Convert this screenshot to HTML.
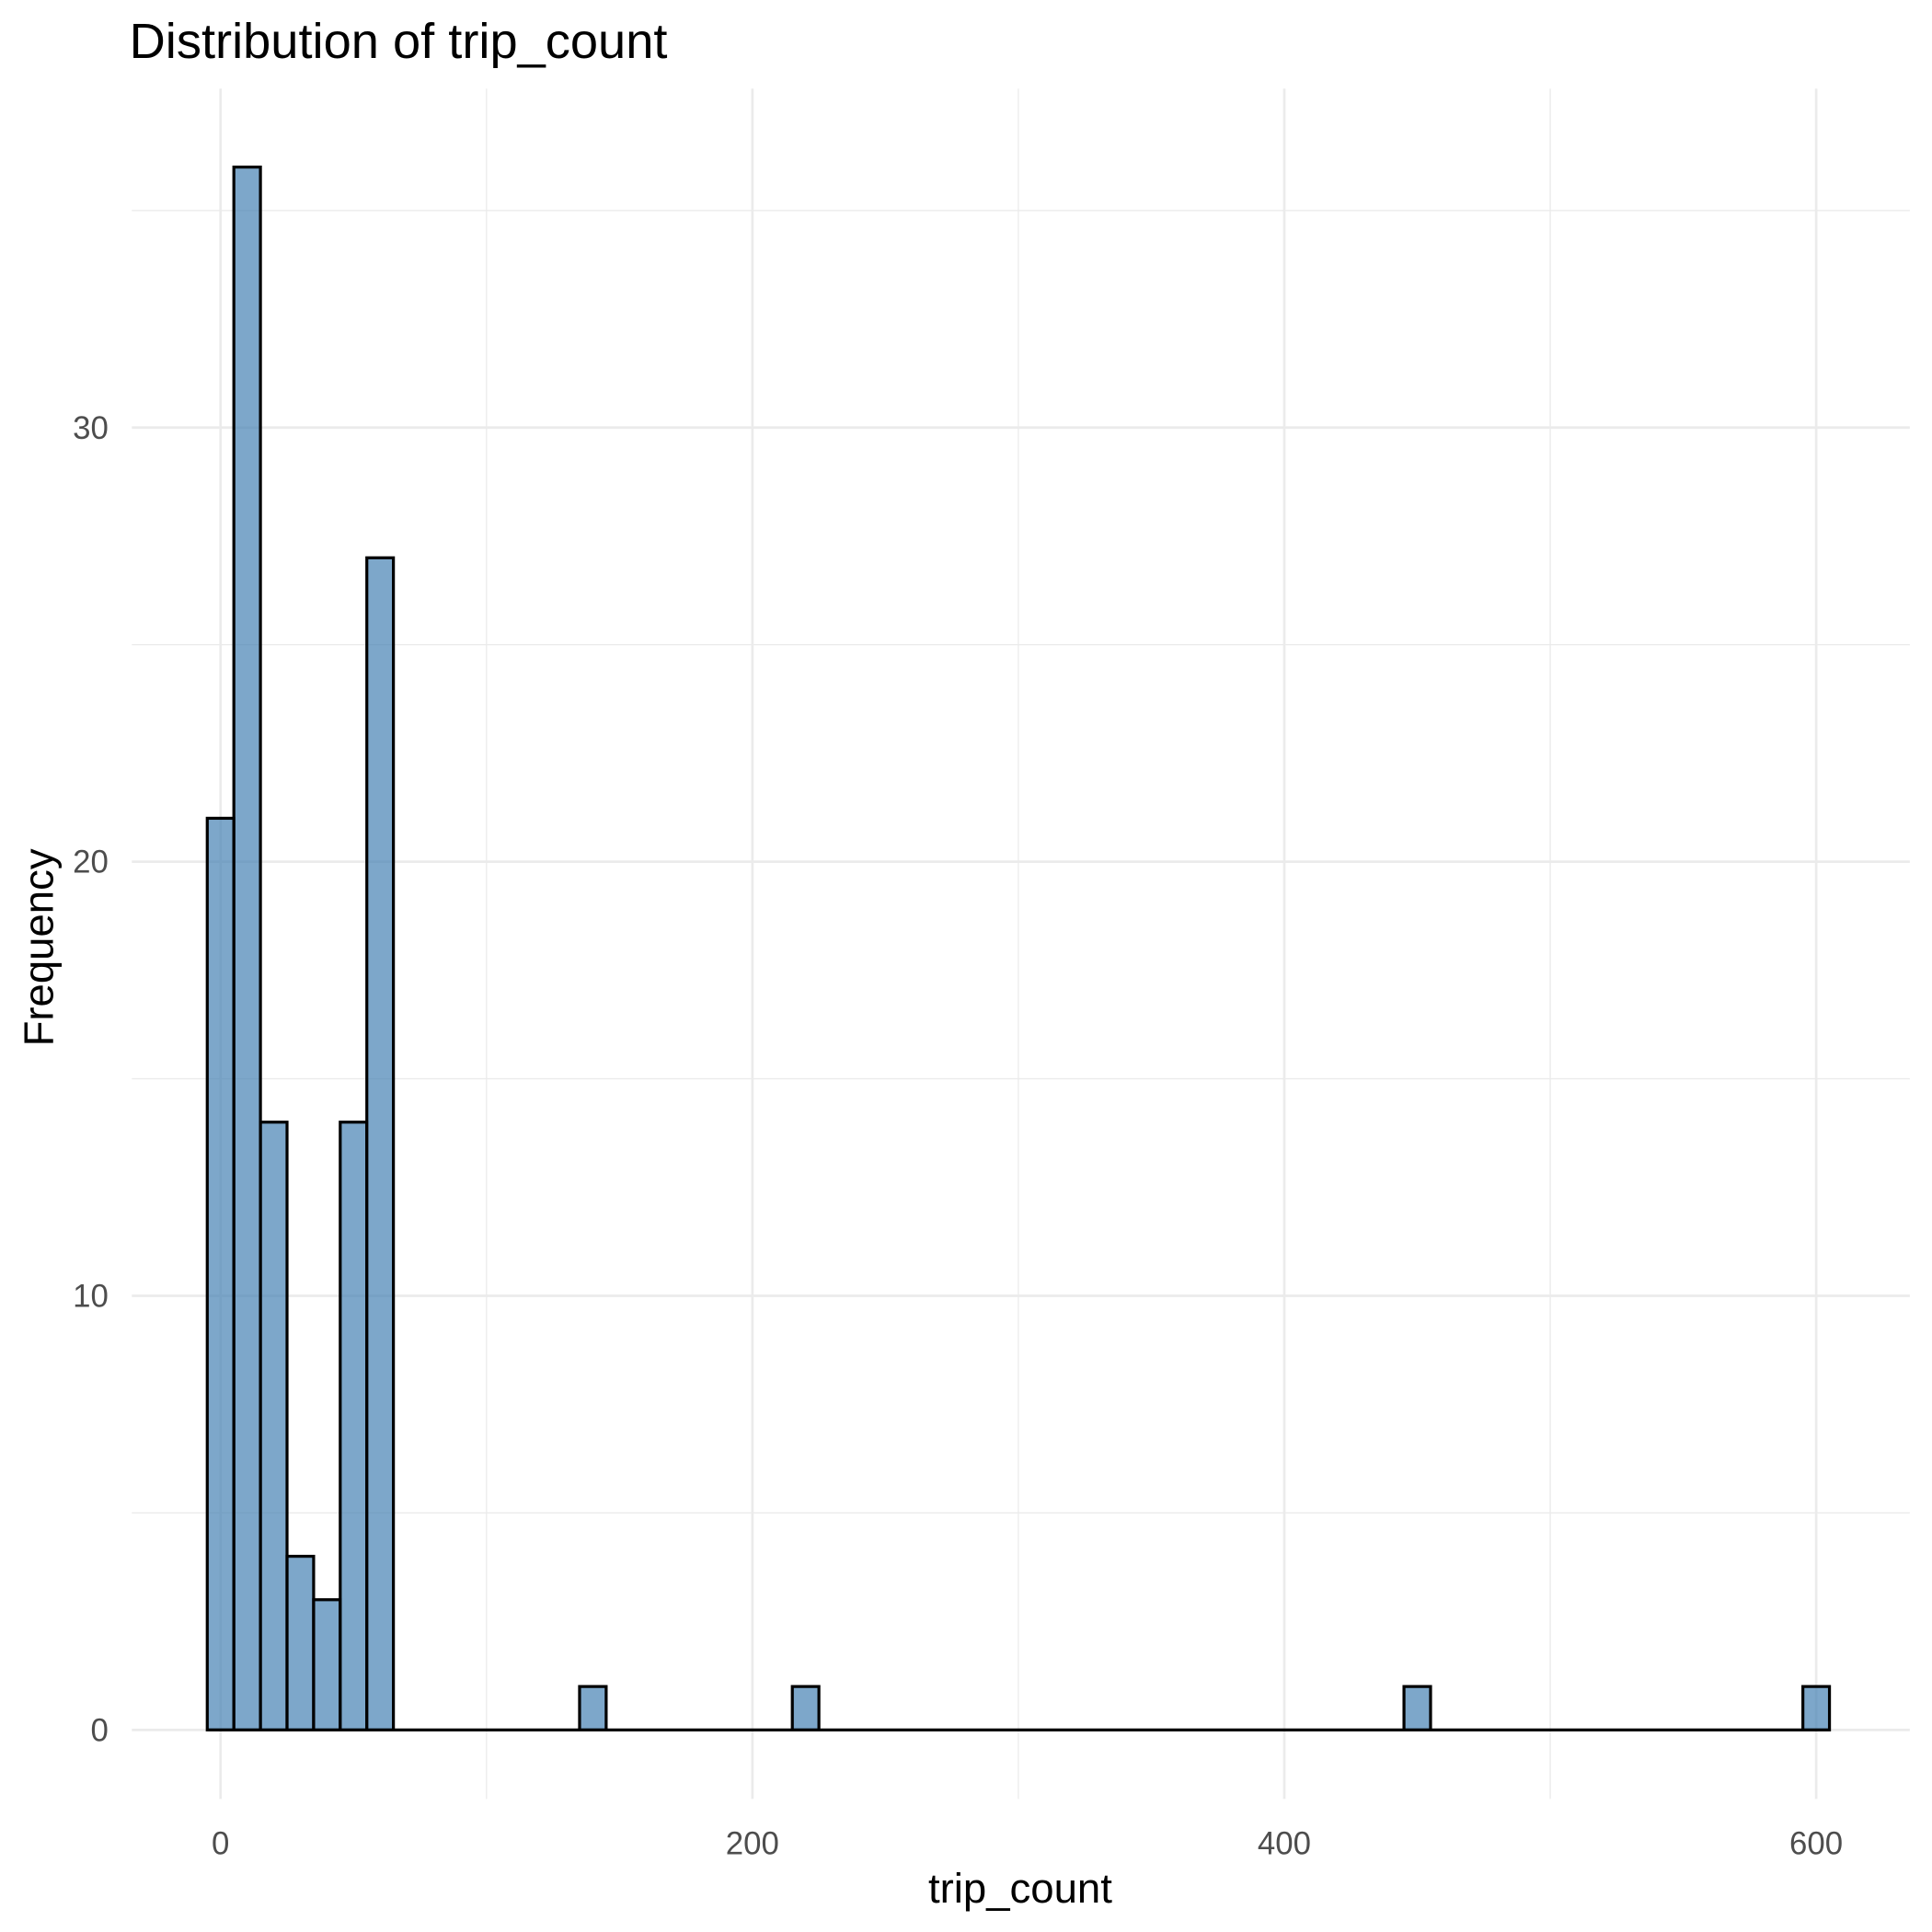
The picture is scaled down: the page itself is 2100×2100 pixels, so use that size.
<!DOCTYPE html>
<html><head><meta charset="utf-8"><style>
html,body{margin:0;padding:0;background:#fff;}
svg{display:block;font-family:"Liberation Sans",Arial,sans-serif;}
</style></head><body>
<svg id="chart" width="2100" height="2100" viewBox="0 0 1568 1568" xmlns="http://www.w3.org/2000/svg">
<rect width="1568" height="1568" fill="#fff"/>
<g id="grid"></g>
<g id="bars"></g>
<g id="axes"></g>
<text x="105" y="47" font-size="40.5" fill="#000">Distribution of trip_count</text>
<text x="828" y="1544" font-size="34" text-anchor="middle" fill="#000">trip_count</text>
<text transform="translate(43,769) rotate(-90)" font-size="34" text-anchor="middle" fill="#000">Frequency</text>
</svg>
<script>
const binCenters = [0,10,20,30,40,50,60,140,220,450,600];
const counts = [21,36,14,4,3,14,27,1,1,1,1];
const binWidth = 10;
const xTicks = [0,200,400,600];
const xMinor = [100,300,500];
const yTicks = [0,10,20,30];
const yMinor = [5,15,25,35];

const NS = "http://www.w3.org/2000/svg";
const PL = 107, PR = 1550, PT = 72, PB = 1460;
function xs(v){ return 179 + (v - 0) * (1474 - 179) / 600; }
function ys(v){ return 1404 - v * (1404 - 347) / 30; }
function mk(tag, attrs, parent){
  const e = document.createElementNS(NS, tag);
  for (const k in attrs) e.setAttribute(k, attrs[k]);
  parent.appendChild(e); return e;
}
const grid = document.getElementById('grid');
const bars = document.getElementById('bars');
const axes = document.getElementById('axes');

yMinor.forEach(v => {
  const l = mk('line', {x1:PL, x2:PR, y1:ys(v), y2:ys(v), stroke:'#ebebeb', 'stroke-width':1}, grid);
  
  
});
xMinor.forEach(v => {
  const l = mk('line', {x1:xs(v), x2:xs(v), y1:PT, y2:PB, stroke:'#ebebeb', 'stroke-width':1}, grid);
  
  
});
yTicks.forEach(v => {
  const l = mk('line', {x1:PL, x2:PR, y1:ys(v), y2:ys(v), stroke:'#ebebeb', 'stroke-width':2}, grid);
  
  
  const t = mk('text', {x:88, y:ys(v)+9, 'font-size':26, fill:'#4d4d4d', 'text-anchor':'end'}, axes);
  t.textContent = v;
  
  
});
xTicks.forEach(v => {
  const l = mk('line', {x1:xs(v), x2:xs(v), y1:PT, y2:PB, stroke:'#ebebeb', 'stroke-width':2}, grid);
  
  
  const t = mk('text', {x:xs(v), y:1505, 'font-size':26, fill:'#4d4d4d', 'text-anchor':'middle'}, axes);
  t.textContent = v;
  
  
});
const minC = Math.min(...binCenters), maxC = Math.max(...binCenters);
const base = mk('line', {x1:xs(minC-binWidth/2), x2:xs(maxC+binWidth/2), y1:ys(0), y2:ys(0), stroke:'#000', 'stroke-width':2.4}, bars);


binCenters.forEach((c, i) => {
  const x0 = xs(c - binWidth/2), x1 = xs(c + binWidth/2);
  const r = mk('rect', {x:x0, y:ys(counts[i]), width:x1-x0, height:ys(0)-ys(counts[i]), fill:'rgba(70,130,180,0.7)', stroke:'#000', 'stroke-width':2.4}, bars);
  
  
});
</script>
</body></html>
